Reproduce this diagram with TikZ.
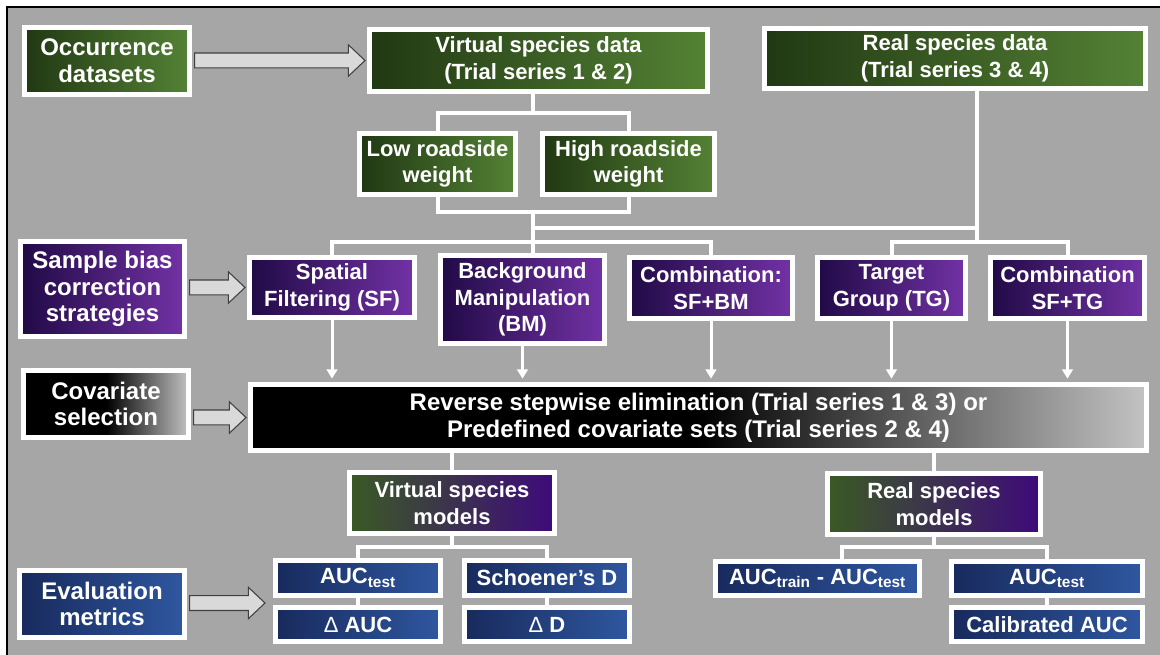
\documentclass[tikz,border=0pt]{standalone}
\usepackage{fontspec}
\setmainfont{Liberation Sans}
\usetikzlibrary{arrows.meta,calc}
\definecolor{bggray}{RGB}{166,166,166}
\definecolor{gL}{RGB}{33,56,19}
\definecolor{gR}{RGB}{84,130,53}
\definecolor{pL}{RGB}{32,10,70}
\definecolor{pR}{RGB}{114,50,165}
\definecolor{bL}{RGB}{24,42,92}
\definecolor{bR}{RGB}{47,87,160}
\definecolor{kR}{RGB}{195,195,195}
\definecolor{mG}{RGB}{58,90,36}
\definecolor{mP}{RGB}{62,10,122}
\definecolor{arrowfill}{RGB}{217,217,217}
\definecolor{arrowedge}{RGB}{64,64,64}
\begin{document}
\begin{tikzpicture}[x=0.75pt,y=-0.75pt,
  box/.style={draw=white, line width=3.75pt, text=white, align=center, inner sep=0pt,
    font=\bfseries\fontsize{16.5}{20}\selectfont},
  big/.style={font=\bfseries\fontsize{18}{20}\selectfont},
  sz/.style 2 args={minimum width={(#1)*0.75pt-3.75pt}, minimum height={(#2)*0.75pt-3.75pt}},
  gbox/.style={box, left color=gL, right color=gR},
  pbox/.style={box, left color=pL, right color=pR},
  bbox/.style={box, left color=bL, right color=bR},
  kbox/.style={box, left color=black, right color=kR, middle color=black},
  mbox/.style={box, left color=mG, right color=mP},
  conn/.style={draw=white, line width=3pt},
  darrow/.style={draw=white, line width=2.25pt, -{Triangle[width=8pt,length=7pt]}, shorten >=2.5pt},
  barrow/.style={draw=arrowedge, fill=arrowfill, line width=0.8pt, line join=miter,
    to path={let \p1=(\tikztostart), \p2=(\tikztotarget) in
      (\x1+2pt,\y2+5.6pt) -- (\x2-14pt,\y2+5.6pt) -- (\x2-14pt,\y2+11.8pt) -- (\x2-1.5pt,\y2)
      -- (\x2-14pt,\y2-11.8pt) -- (\x2-14pt,\y2-5.6pt) -- (\x1+2pt,\y2-5.6pt) -- cycle}}
]
\useasboundingbox (0,0) rectangle (1160,655);
\fill[white] (0,0) rectangle (1160,655);
\fill[bggray] (7,7) rectangle (1160,655);
\draw[line width=1.6pt] (7,655) -- (7,7) -- (1160,7);

% label boxes (left column)
\node[gbox, big, sz={170}{72}] (occ) at (107,61) {Occurrence\\datasets};
\node[pbox, big, sz={169}{100}] (sbc) at (102.5,289) {Sample bias\\correction\\strategies};
\node[kbox, big, sz={170}{72}] (cov) at (106,404) {Covariate\\selection};
\node[bbox, big, sz={170}{72}] (eval) at (102,604) {Evaluation\\metrics};

% data
\node[gbox, sz={343}{67}] (vsd) at (538.5,60.5) {Virtual species data\\(Trial series 1 \& 2)};
\node[gbox, sz={386}{65}] (rsd) at (955,58.5) {Real species data\\(Trial series 3 \& 4)};
\node[gbox, sz={161}{66}] (low) at (437.5,164) {Low roadside\\weight};
\node[gbox, sz={177}{66}] (high) at (628.5,164) {High roadside\\weight};

% strategies
\node[pbox, sz={170}{65}] (sf) at (332,287.5) {Spatial\\Filtering (SF)};
\node[pbox, sz={169}{93}] (bm) at (522.5,299.5) {Background\\Manipulation\\(BM)};
\node[pbox, sz={168}{66}] (sfbm) at (711,288) {Combination:\\SF+BM};
\node[pbox, sz={153}{66}] (tg) at (891.5,288) {Target\\Group (TG)};
\node[pbox, sz={159}{66}] (sftg) at (1067.5,288) {Combination\\SF+TG};

% covariate selection
\node[kbox, big, sz={901}{71}] (rse) at (698.5,417.5) {Reverse stepwise elimination (Trial series 1 \& 3) or\\Predefined covariate sets (Trial series 2 \& 4)};

% models
\node[mbox, sz={210}{66}] (vsm) at (452,503) {Virtual species\\models};
\node[mbox, sz={218}{66}] (rsm) at (934,504) {Real species\\models};

% metrics
\node[bbox, sz={170}{40}] (aucv) at (358,578) {AUC\textsubscript{test}};
\node[bbox, sz={170}{39}] (dauc) at (358,624.5) {{\mdseries Δ} AUC};
\node[bbox, sz={170}{40}] (sch) at (547,578) {Schoener’s D};
\node[bbox, sz={170}{39}] (dd) at (547,624.5) {{\mdseries Δ} D};
\node[bbox, sz={209}{39}] (atr) at (817.5,578.5) {AUC\textsubscript{train} - AUC\textsubscript{test}};
\node[bbox, sz={196}{39}] (aucr) at (1047,578.5) {AUC\textsubscript{test}};
\node[bbox, sz={196}{39}] (cal) at (1047,624.5) {Calibrated AUC};

% junction coordinates
\coordinate (j1) at (533,113);
\coordinate (j2) at (533,212);
\coordinate (j3) at (533,228);
\coordinate (j4) at (533,242);
\coordinate (rx) at (977,228);
\coordinate (j5) at (977,242);
\coordinate (jv) at (452,547);
\coordinate (jr) at (934,547);
\coordinate (ax) at (842,547);
\coordinate (evtip) at (267,603);

% tree connectors
\draw[conn] (vsd.south -| j1) -- (j1);
\draw[conn] (low.north) |- (j1) -| (high.north);
\draw[conn] (low.south) |- (j2) -| (high.south);
\draw[conn] (j2) -- (j2 |- bm.north);
\draw[conn] (j3) -- (rx);
\draw[conn] (rsd.south -| rx) -- (j5);
\draw[conn] (sf.north) |- (j4) -| (sfbm.north);
\draw[conn] (tg.north) |- (j5) -| (sftg.north);

% arrows to covariate selection
\foreach \n in {sf,bm,sfbm,tg,sftg}
  \draw[darrow] (\n.south) -- (\n.south |- rse.north);

% to models
\draw[conn] (rse.south -| vsm.north) -- (vsm.north);
\draw[conn] (rse.south -| rsm.north) -- (rsm.north);
\draw[conn] (vsm.south) -- (jv);
\draw[conn] (aucv.north) |- (jv) -| (sch.north);
\draw[conn] (aucv.south) -- (dauc.north);
\draw[conn] (sch.south) -- (dd.north);
\draw[conn] (rsm.south) -- (jr);
\draw[conn] (ax |- atr.north) |- (jr) -| (aucr.north);
\draw[conn] (aucr.south) -- (cal.north);

% block arrows
\draw[barrow] (occ.east) to (vsd.west);
\draw[barrow] (sbc.east) to (sf.west);
\draw[barrow] (cov.east) to (rse.west);
\draw[barrow] (eval.east) to (evtip);
\end{tikzpicture}
\end{document}
